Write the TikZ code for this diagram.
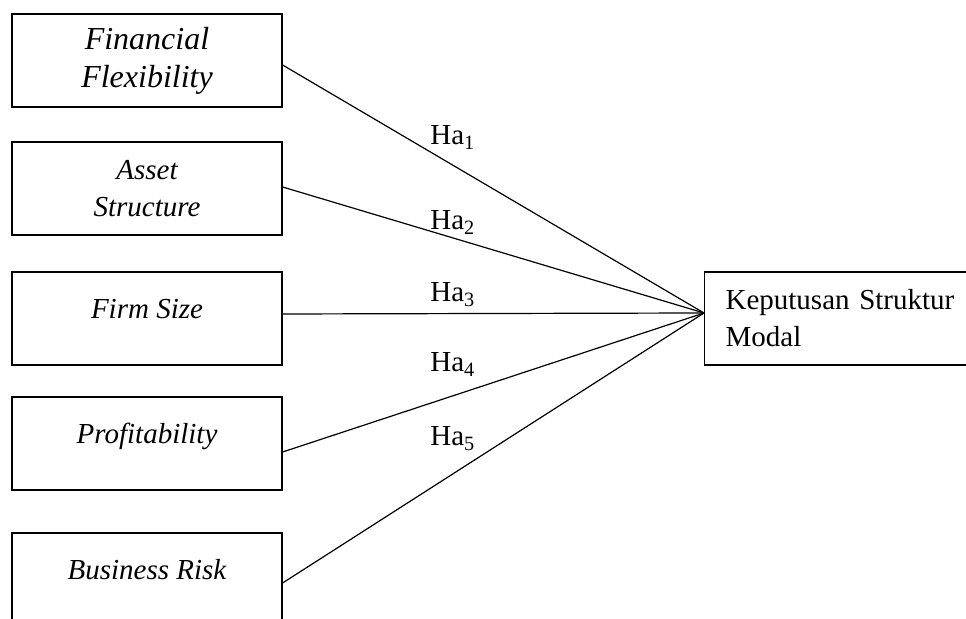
\documentclass[tikz,border=0pt]{standalone}
\usepackage{fontspec}
\setmainfont{Liberation Serif}
\usetikzlibrary{calc}

\begin{document}
\begin{tikzpicture}[
    x=0.5pt, y=-0.5pt,
    font=\fontsize{14.5}{18.5}\selectfont,
    varbox/.style={rectangle, draw, line width=0.6pt, minimum width=135pt, minimum height=46.5pt, align=center, font=\fontsize{14.5}{18.5}\selectfont\itshape},
    bigbox/.style={varbox, font=\fontsize{16}{19}\selectfont\itshape},
    onebox/.style={varbox, text height=10pt, text depth=10pt},
    depbox/.style={rectangle, draw, line width=0.6pt, minimum height=46.5pt, text width=129pt, inner xsep=10.5pt, align=left, anchor=west},
    link/.style={line width=0.6pt},
    hyp/.style={anchor=base west, inner sep=0pt}
]

\useasboundingbox (0,0) rectangle (966,619);
\clip (0,0) rectangle (966,619);

% Independent variables
\node[bigbox] (ff) at (147,60.5) {Financial\\Flexibility};
\node[varbox] (as) at (147,188.5) {Asset\\Structure};
\node[onebox] (fs) at (147,318.5) {Firm Size};
\node[onebox] (pr) at (147,443.5) {Profitability};
\node[onebox] (br) at (147,579.5) {Business Risk};

% Dependent variable
\node[depbox] (ksm) at (704,318.5) {Keputusan Struktur\\Modal};
\coordinate (hub) at ($(ksm.west)+(0,-5.5)$);

% Hypotheses
\draw[link] ($(ff.east)+(0,4.5)$) -- (hub);
\draw[link] ($(as.east)+(0,-1.5)$) -- (hub);
\draw[link] ($(fs.east)+(0,-4.5)$) -- (hub);
\draw[link] ($(pr.east)+(0,8.5)$) -- (hub);
\draw[link] ($(br.east)+(0,3.5)$) -- (hub);

\node[hyp] (ha1) at (430,145) {Ha\textsubscript{1}};
\node[hyp] (ha2) at (430,230) {Ha\textsubscript{2}};
\node[hyp] (ha3) at (430,302) {Ha\textsubscript{3}};
\node[hyp] (ha4) at (430,372) {Ha\textsubscript{4}};
\node[hyp] (ha5) at (430,446) {Ha\textsubscript{5}};

\end{tikzpicture}
\end{document}
